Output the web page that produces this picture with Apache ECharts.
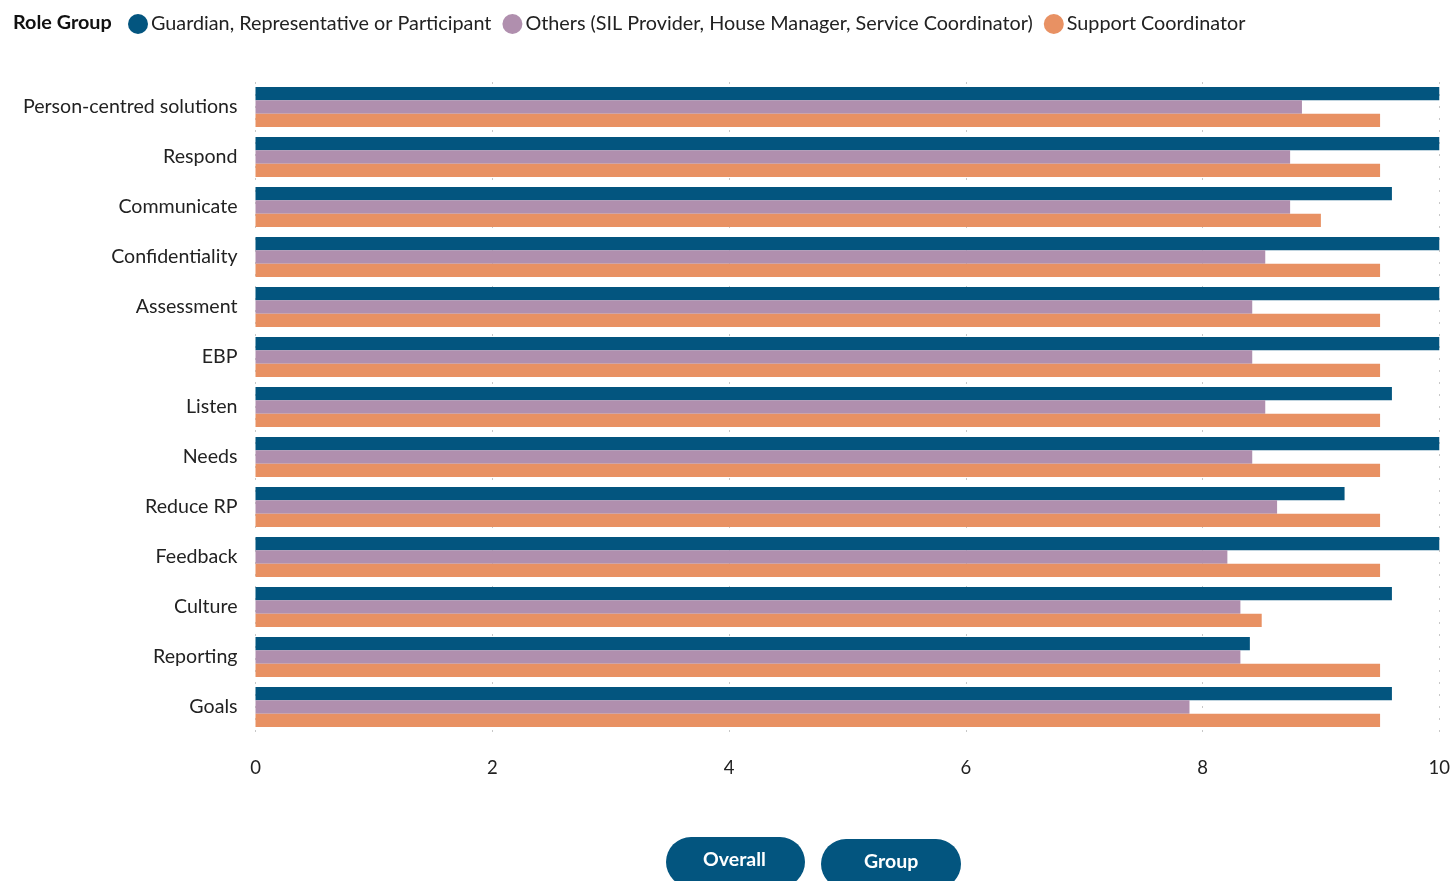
<!DOCTYPE html>
<html>
<head>
<meta charset="utf-8">
<script src="https://cdn.jsdelivr.net/npm/echarts@6/dist/echarts.min.js"></script>
<style>
html,body{margin:0;padding:0;background:#fff;}
#c{width:1453px;height:881px;}
</style>
</head>
<body>
<div id="c"></div>
<script>
const categories = ["Person-centred solutions","Respond","Communicate","Confidentiality","Assessment","EBP","Listen","Needs","Reduce RP","Feedback","Culture","Reporting","Goals"];
const seriesNames = ["Guardian, Representative or Participant","Others (SIL Provider, House Manager, Service Coordinator)","Support Coordinator"];
const guardian = [10, 10, 9.6, 10, 10, 10, 9.6, 10, 9.2, 10, 9.6, 8.4, 9.6];
const others   = [8.84, 8.74, 8.74, 8.53, 8.42, 8.42, 8.53, 8.42, 8.63, 8.21, 8.32, 8.32, 7.89];
const support  = [9.5, 9.5, 9.0, 9.5, 9.5, 9.5, 9.5, 9.5, 9.5, 9.5, 8.5, 9.5, 9.5];
const xTicks = [0, 2, 4, 6, 8, 10];
const colors = ["#03557f", "#b08fae", "#e89163"];
const FONT = "Lato, 'Open Sans', sans-serif";

const chart = echarts.init(document.getElementById('c'));
const values = [guardian, others, support];
chart.setOption({
  animation: false,
  textStyle: {fontFamily: FONT},
  title: {
    text: 'Role Group', left: 13, top: 13, padding: 0,
    textStyle: {fontFamily: FONT, fontWeight: 'bold', fontSize: 19.8, color: '#111'}
  },
  legend: {
    left: 128, top: 14, padding: 0,
    icon: 'circle', itemWidth: 20, itemHeight: 20, itemGap: 11,
    textStyle: {fontFamily: FONT, fontSize: 19.8, color: '#222', padding: [0,0,0,-2]},
    data: seriesNames
  },
  grid: {left: 255.5, right: 12.5, top: 82, height: 650, containLabel: false},
  xAxis: {
    type: 'value', min: xTicks[0], max: xTicks[xTicks.length-1], interval: 2,
    axisLine: {show: false}, axisTick: {show: false},
    axisLabel: {margin: 27, fontSize: 18.5, color: '#222', fontFamily: FONT},
    splitLine: {show: true, lineStyle: {color: '#c8c8c8', type: [2, 10], width: 1}}
  },
  yAxis: {
    type: 'category', data: categories, inverse: true,
    axisLine: {show: false}, axisTick: {show: false},
    axisLabel: {margin: 18, fontSize: 19.6, color: '#222', fontFamily: FONT}
  },
  series: seriesNames.map((n, i) => ({
    name: n, type: 'bar', data: values[i],
    barWidth: 13.3, barGap: '0%',
    itemStyle: {color: colors[i]}
  })),
  graphic: [
    {type: 'rect', left: 666, top: 837, shape: {width: 139, height: 50, r: 25}, style: {fill: '#03557f'}},
    {type: 'text', left: 703, top: 850, style: {text: 'Overall', fill: '#fff', font: "bold 19.5px " + FONT}},
    {type: 'rect', left: 821, top: 839, shape: {width: 140, height: 50, r: 25}, style: {fill: '#03557f'}},
    {type: 'text', left: 864, top: 852, style: {text: 'Group', fill: '#fff', font: "bold 19.5px " + FONT}}
  ]
});
</script>
</body>
</html>
